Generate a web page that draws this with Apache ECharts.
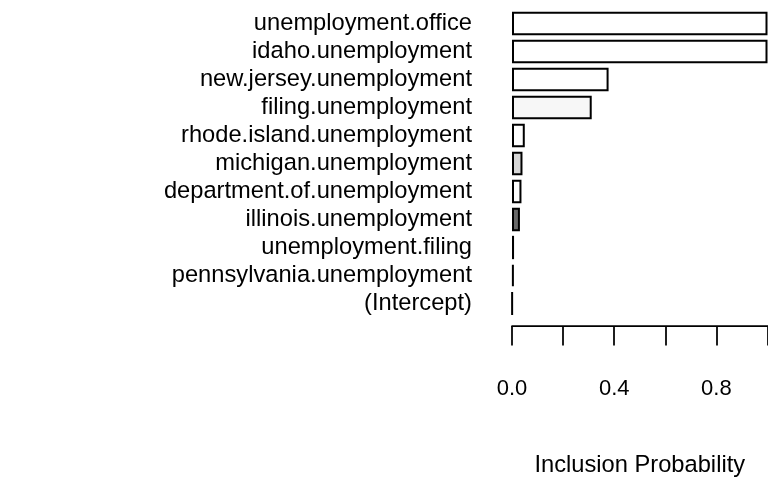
<!DOCTYPE html>
<html>
<head>
<meta charset="utf-8">
<script src="https://cdn.jsdelivr.net/npm/echarts@6/dist/echarts.min.js"></script>
<style>
html,body{margin:0;padding:0;background:#fff;}
#chart{width:768px;height:480px;}
</style>
</head>
<body>
<div id="chart"></div>
<script>
// Predictors, listed top to bottom as in the reference
const predictors = [
  'unemployment.office',
  'idaho.unemployment',
  'new.jersey.unemployment',
  'filing.unemployment',
  'rhode.island.unemployment',
  'michigan.unemployment',
  'department.of.unemployment',
  'illinois.unemployment',
  'unemployment.filing',
  'pennsylvania.unemployment',
  '(Intercept)'
];
// Inclusion probabilities
const inclusionProb = [1.0, 1.0, 0.378, 0.312, 0.05, 0.041, 0.037, 0.031, 0.008, 0.007, 0.001];
// Probability that the coefficient is positive (drives the gray shade: white = positive, black = negative)
const positiveProb = [1.0, 1.0, 1.0, 0.97, 1.0, 0.84, 1.0, 0.41, 0.0, 0.0, 0.0];
// X tick labels (R drops the overlapping ones)
const xTickValues = [0, 0.2, 0.4, 0.6, 0.8, 1.0];
const xTickLabels = ['0.0', '', '0.4', '', '0.8', ''];

const FONT = "'Liberation Sans', Arial, Helvetica, sans-serif";

function grayHex(p) {
  const v = Math.round(Math.max(0, Math.min(1, p)) * 255);
  const h = v.toString(16).padStart(2, '0');
  return '#' + h + h + h;
}

const chart = echarts.init(document.getElementById('chart'), null, {renderer: 'canvas'});
chart.setOption({
  animation: false,
  backgroundColor: '#ffffff',
  grid: {left: 512, right: 0.5, top: 9.5, bottom: 162.5, containLabel: false, outerBoundsMode: 'none'},
  xAxis: {
    type: 'value',
    min: 0,
    max: 1,
    interval: 0.2,
    offset: 8.5,
    name: 'Inclusion Probability',
    nameLocation: 'middle',
    nameGap: 127,
    nameTextStyle: {color: '#000', fontSize: 23.7, fontFamily: FONT},
    axisLine: {show: true, lineStyle: {color: '#000', width: 1.75}},
    axisTick: {show: true, length: 19.5, lineStyle: {color: '#000', width: 1.75}},
    splitLine: {show: false},
    axisLabel: {
      color: '#000',
      fontSize: 22,
      fontFamily: FONT,
      margin: 52,
      formatter: function (v) {
        const i = xTickValues.findIndex(t => Math.abs(t - v) < 1e-9);
        return i >= 0 ? xTickLabels[i] : '';
      }
    }
  },
  yAxis: {
    type: 'category',
    inverse: true,
    data: predictors,
    axisLine: {show: false},
    axisTick: {show: false},
    splitLine: {show: false},
    axisLabel: {color: '#000', fontSize: 23.7, fontFamily: FONT, margin: 40, interval: 0, hideOverlap: false}
  },
  series: [{
    type: 'bar',
    data: inclusionProb,
    barWidth: '83.3%',
    itemStyle: {
      color: function (p) { return grayHex(positiveProb[p.dataIndex]); },
      borderColor: '#000',
      borderWidth: 2
    },
    emphasis: {disabled: true}
  }]
});
</script>
</body>
</html>
